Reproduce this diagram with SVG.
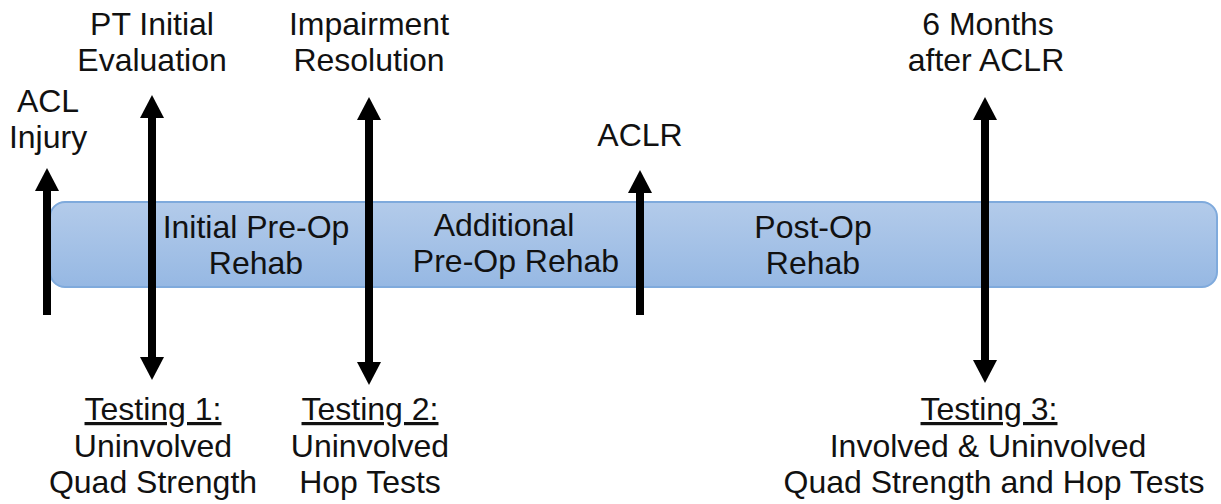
<svg xmlns="http://www.w3.org/2000/svg" width="1221" height="504" viewBox="0 0 1221 504">
<defs>
<linearGradient id="barGrad" x1="0" y1="0" x2="0" y2="1">
<stop offset="0" stop-color="#b3cbea"/>
<stop offset="1" stop-color="#96b8e3"/>
</linearGradient>
<marker id="head" markerUnits="userSpaceOnUse" markerWidth="24" markerHeight="24" viewBox="0 0 23 24" refX="0" refY="12" orient="auto-start-reverse">
<path d="M0,0 L23,12 L0,24 z" fill="#000"/>
</marker>
<style>
text{font-family:"Liberation Sans",Arial,sans-serif;font-size:32px;fill:#111;text-anchor:middle}
.u{text-decoration:underline}
.arr{stroke:#000;stroke-width:8;fill:none}
</style>
</defs>
<rect width="1221" height="504" fill="#fff"/>
<g id="bar">
<rect x="50" y="202" width="1167" height="85" rx="15" ry="15" fill="url(#barGrad)" stroke="#7faadc" stroke-width="2"/>
<text x="256" y="238">Initial Pre-Op</text>
<text x="256" y="274">Rehab</text>
<text x="504" y="236">Additional</text>
<text x="516" y="272">Pre-Op Rehab</text>
<text x="813" y="238">Post-Op</text>
<text x="813" y="274">Rehab</text>
</g>
<g id="connectors">
<line class="arr" x1="47" y1="315" x2="47" y2="191" marker-end="url(#head)"/>
<line class="arr" x1="152" y1="357" x2="152" y2="118" marker-start="url(#head)" marker-end="url(#head)"/>
<line class="arr" x1="369" y1="362" x2="369" y2="120" marker-start="url(#head)" marker-end="url(#head)"/>
<line class="arr" x1="640" y1="315" x2="640" y2="193" marker-end="url(#head)"/>
<line class="arr" x1="985" y1="360" x2="985" y2="120" marker-start="url(#head)" marker-end="url(#head)"/>
</g>
<g id="acl-injury">
<text x="48" y="112">ACL</text>
<text x="48" y="148">Injury</text>
</g>
<g id="pt-eval">
<text x="152" y="35">PT Initial</text>
<text x="152" y="71">Evaluation</text>
</g>
<g id="impairment">
<text x="369" y="35">Impairment</text>
<text x="369" y="71">Resolution</text>
</g>
<g id="aclr">
<text x="640" y="146">ACLR</text>
</g>
<g id="six-months">
<text x="988" y="35">6 Months</text>
<text x="986" y="71">after ACLR</text>
</g>
<g id="testing1">
<text class="u" x="153" y="420">Testing 1:</text>
<text x="153" y="457">Uninvolved</text>
<text x="153" y="493">Quad Strength</text>
</g>
<g id="testing2">
<text class="u" x="370" y="420">Testing 2:</text>
<text x="370" y="457">Uninvolved</text>
<text x="370" y="493">Hop Tests</text>
</g>
<g id="testing3">
<text class="u" x="989" y="420">Testing 3:</text>
<text x="988" y="457">Involved &amp; Uninvolved</text>
<text x="994" y="493">Quad Strength and Hop Tests</text>
</g>
</svg>
